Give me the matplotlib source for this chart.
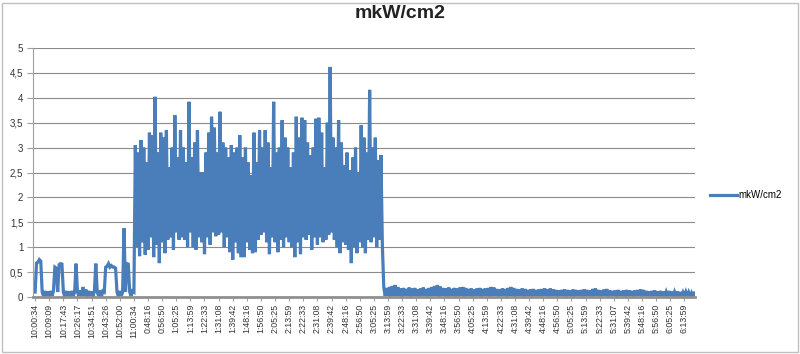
import matplotlib.pyplot as plt
import numpy as np
from matplotlib.patches import Rectangle

plt.rcParams['font.family'] = ['Liberation Sans', 'DejaVu Sans']

# Beschriftung der Zeitachse (jede 10. Messung)
time_labels = ['10:00:34', '10:09:09', '10:17:43', '10:26:17', '10:34:51', '10:43:26',
               '10:52:00', '11:00:34', '0:48:16', '0:56:50', '1:05:25', '1:13:59',
               '1:22:33', '1:31:08', '1:39:42', '1:48:16', '1:56:50', '2:05:25',
               '2:13:59', '2:22:33', '2:31:08', '2:39:42', '2:48:16', '2:56:50',
               '3:05:25', '3:13:59', '3:22:33', '3:31:08', '3:39:42', '3:48:16',
               '3:56:50', '4:05:25', '4:13:59', '4:22:33', '4:31:08', '4:39:42',
               '4:48:16', '4:56:50', '5:05:25', '5:13:59', '5:22:33', '5:31:07',
               '5:39:42', '5:48:16', '5:56:50', '6:05:25', '6:13:59']
y_labels = ['0', '0,5', '1', '1,5', '2', '2,5', '3', '3,5', '4', '4,5', '5']

# Vormittag: Grundrauschen mit einzelnen Spitzen
morning = [0.1, 0.68, 0.7, 0.75, 0.72, 0.1, 0.01, 0.12, 0.02, 0.11,
           0.01, 0.12, 0.02, 0.12, 0.6, 0.58, 0.1, 0.65, 0.67, 0.66,
           0.1, 0.01, 0.12, 0.02, 0.11, 0.01, 0.12, 0.02, 0.1, 0.67,
           0.1, 0.02, 0.13, 0.02, 0.2, 0.02, 0.15, 0.01, 0.12, 0.02,
           0.11, 0.01, 0.12, 0.67, 0.1, 0.02, 0.13, 0.01, 0.12, 0.1,
           0.6, 0.62, 0.67, 0.6, 0.63, 0.6, 0.6, 0.58, 0.1, 0.01,
           0.12, 0.02, 0.1, 1.38, 0.1, 0.67, 0.66, 0.1, 0.02, 0.12,
           0.1]

# Belastungsphase: starke Schwankungen zwischen ca. 1 und 3.5
exposure = [3.05, 1.0, 2.9, 0.82, 3.15, 1.1, 3.0, 0.85, 2.7, 0.95,
            3.3, 1.2, 3.25, 0.8, 4.02, 1.05, 2.9, 0.68, 3.3, 1.1,
            3.2, 0.88, 3.35, 1.15, 2.6, 1.2, 3.0, 0.95, 3.65, 1.3,
            2.8, 1.15, 3.35, 1.2, 3.0, 1.15, 2.7, 1.0, 3.92, 1.3,
            2.8, 1.0, 3.1, 0.95, 3.35, 1.2, 2.5, 1.1, 2.5, 0.86,
            2.9, 1.2, 3.3, 1.05, 3.62, 1.3, 3.4, 1.22, 2.9, 1.25,
            3.72, 1.3, 3.1, 1.0, 3.0, 1.2, 2.8, 0.9, 3.05, 0.75,
            2.9, 1.1, 3.0, 0.88, 3.25, 0.8, 2.8, 0.8, 3.0, 1.1,
            2.7, 0.95, 2.45, 0.88, 3.3, 0.9, 2.7, 1.15, 3.35, 1.25,
            3.0, 1.3, 3.35, 1.1, 3.1, 0.86, 2.6, 1.2, 3.92, 1.1,
            2.9, 0.9, 3.0, 1.15, 3.55, 1.0, 3.2, 1.2, 3.0, 1.1,
            2.6, 1.0, 2.9, 0.8, 3.62, 1.1, 3.2, 0.86, 3.6, 1.2,
            3.55, 1.15, 3.1, 1.25, 2.85, 0.95, 3.0, 1.2, 3.58, 1.05,
            3.6, 1.2, 3.3, 1.1, 2.6, 1.15, 3.5, 1.25, 4.62, 1.3,
            3.2, 1.15, 3.0, 1.0, 3.55, 0.88, 3.1, 1.1, 2.65, 1.05,
            2.9, 0.95, 2.55, 0.68, 2.8, 1.0, 3.0, 0.88, 2.5, 1.1,
            3.45, 1.0, 3.2, 0.88, 2.9, 1.15, 4.16, 1.1, 3.0, 1.2,
            3.2, 1.0, 2.75, 1.15, 2.85, 1.05]

# Nachmittag: wieder niedriges Niveau
evening = [0.2, 0.02, 0.18, 0.02, 0.2, 0.01, 0.22, 0.02, 0.24, 0.02,
           0.2, 0.02, 0.17, 0.01, 0.18, 0.02, 0.16, 0.02, 0.19, 0.01,
           0.17, 0.02, 0.18, 0.02, 0.15, 0.01, 0.17, 0.02, 0.19, 0.02,
           0.16, 0.01, 0.18, 0.02, 0.2, 0.02, 0.22, 0.02, 0.24, 0.01,
           0.21, 0.02, 0.18, 0.02, 0.17, 0.01, 0.19, 0.02, 0.16, 0.02,
           0.18, 0.01, 0.17, 0.02, 0.19, 0.02, 0.2, 0.01, 0.18, 0.02,
           0.16, 0.02, 0.17, 0.01, 0.15, 0.02, 0.17, 0.02, 0.18, 0.01,
           0.16, 0.02, 0.17, 0.02, 0.18, 0.01, 0.2, 0.02, 0.19, 0.02,
           0.16, 0.01, 0.15, 0.02, 0.17, 0.02, 0.16, 0.01, 0.18, 0.02,
           0.2, 0.02, 0.18, 0.01, 0.16, 0.02, 0.15, 0.02, 0.17, 0.01,
           0.16, 0.02, 0.14, 0.02, 0.15, 0.01, 0.16, 0.02, 0.14, 0.02,
           0.15, 0.01, 0.16, 0.02, 0.17, 0.02, 0.15, 0.01, 0.17, 0.02,
           0.15, 0.02, 0.14, 0.01, 0.13, 0.02, 0.14, 0.02, 0.15, 0.01,
           0.14, 0.02, 0.13, 0.02, 0.15, 0.01, 0.14, 0.02, 0.13, 0.02,
           0.14, 0.01, 0.15, 0.02, 0.14, 0.02, 0.13, 0.01, 0.16, 0.02,
           0.17, 0.02, 0.14, 0.01, 0.13, 0.02, 0.15, 0.02, 0.16, 0.01,
           0.13, 0.02, 0.12, 0.02, 0.13, 0.01, 0.14, 0.02, 0.12, 0.02,
           0.13, 0.01, 0.14, 0.02, 0.13, 0.02, 0.12, 0.01, 0.13, 0.02,
           0.14, 0.02, 0.15, 0.01, 0.14, 0.02, 0.12, 0.02, 0.11, 0.01,
           0.12, 0.02, 0.13, 0.02, 0.11, 0.01, 0.12, 0.02, 0.11, 0.02,
           0.1, 0.01, 0.12, 0.02, 0.11, 0.01, 0.1, 0.02, 0.11, 0.01,
           0.1, 0.01, 0.09, 0.02, 0.1, 0.01, 0.09, 0.01, 0.08, 0.01,
           0.08]

values = np.array(morning + exposure + evening)
idx = np.arange(len(values))

fig = plt.figure(figsize=(8, 3.54), dpi=100)
ax = fig.add_axes([33 / 800, 1 - 297 / 354, 662 / 800, 249 / 354])

ax.plot(idx, values, color='#4a7ebb', lw=2.3, label='mkW/cm2', solid_joinstyle='miter')

ax.set_xlim(-1.5, len(values) - 0.5)
ax.set_ylim(0, 5)
ax.set_yticks(np.arange(0, 5.01, 0.5))
ax.set_yticklabels(y_labels, fontsize=7, color='#333333')
ax.set_xticks(idx[::10][:len(time_labels)])
ax.set_xticklabels(time_labels, rotation=90, fontsize=6.3, color='#333333')

ax.grid(axis='y', color='#8c8c8c', lw=0.8)
ax.set_axisbelow(True)
for s in ['top', 'right']:
    ax.spines[s].set_visible(False)
ax.spines['left'].set_color('#a0a0a0')
ax.spines['left'].set_linewidth(0.8)
ax.spines['bottom'].set_color('#909090')
ax.spines['bottom'].set_linewidth(2)
ax.tick_params(axis='y', length=4, color='#a0a0a0', pad=3)
ax.tick_params(axis='x', length=3, color='#a0a0a0', pad=2)

fig.suptitle('mkW/cm2', x=0.5, y=0.985, fontsize=14, fontweight='bold', color='#222222')

ax.legend(loc='center left', bbox_to_anchor=(1.015, 0.41), frameon=False,
          fontsize=7, handlelength=2.8, handletextpad=0.1, borderpad=0)

# Rahmen um das Diagramm
fig.patches.append(Rectangle((2 / 800, 2 / 354), 796 / 800, 349 / 354, transform=fig.transFigure,
                             fill=False, ec='#c0c0c0', lw=1))

fig.savefig('out.png', dpi=100)
